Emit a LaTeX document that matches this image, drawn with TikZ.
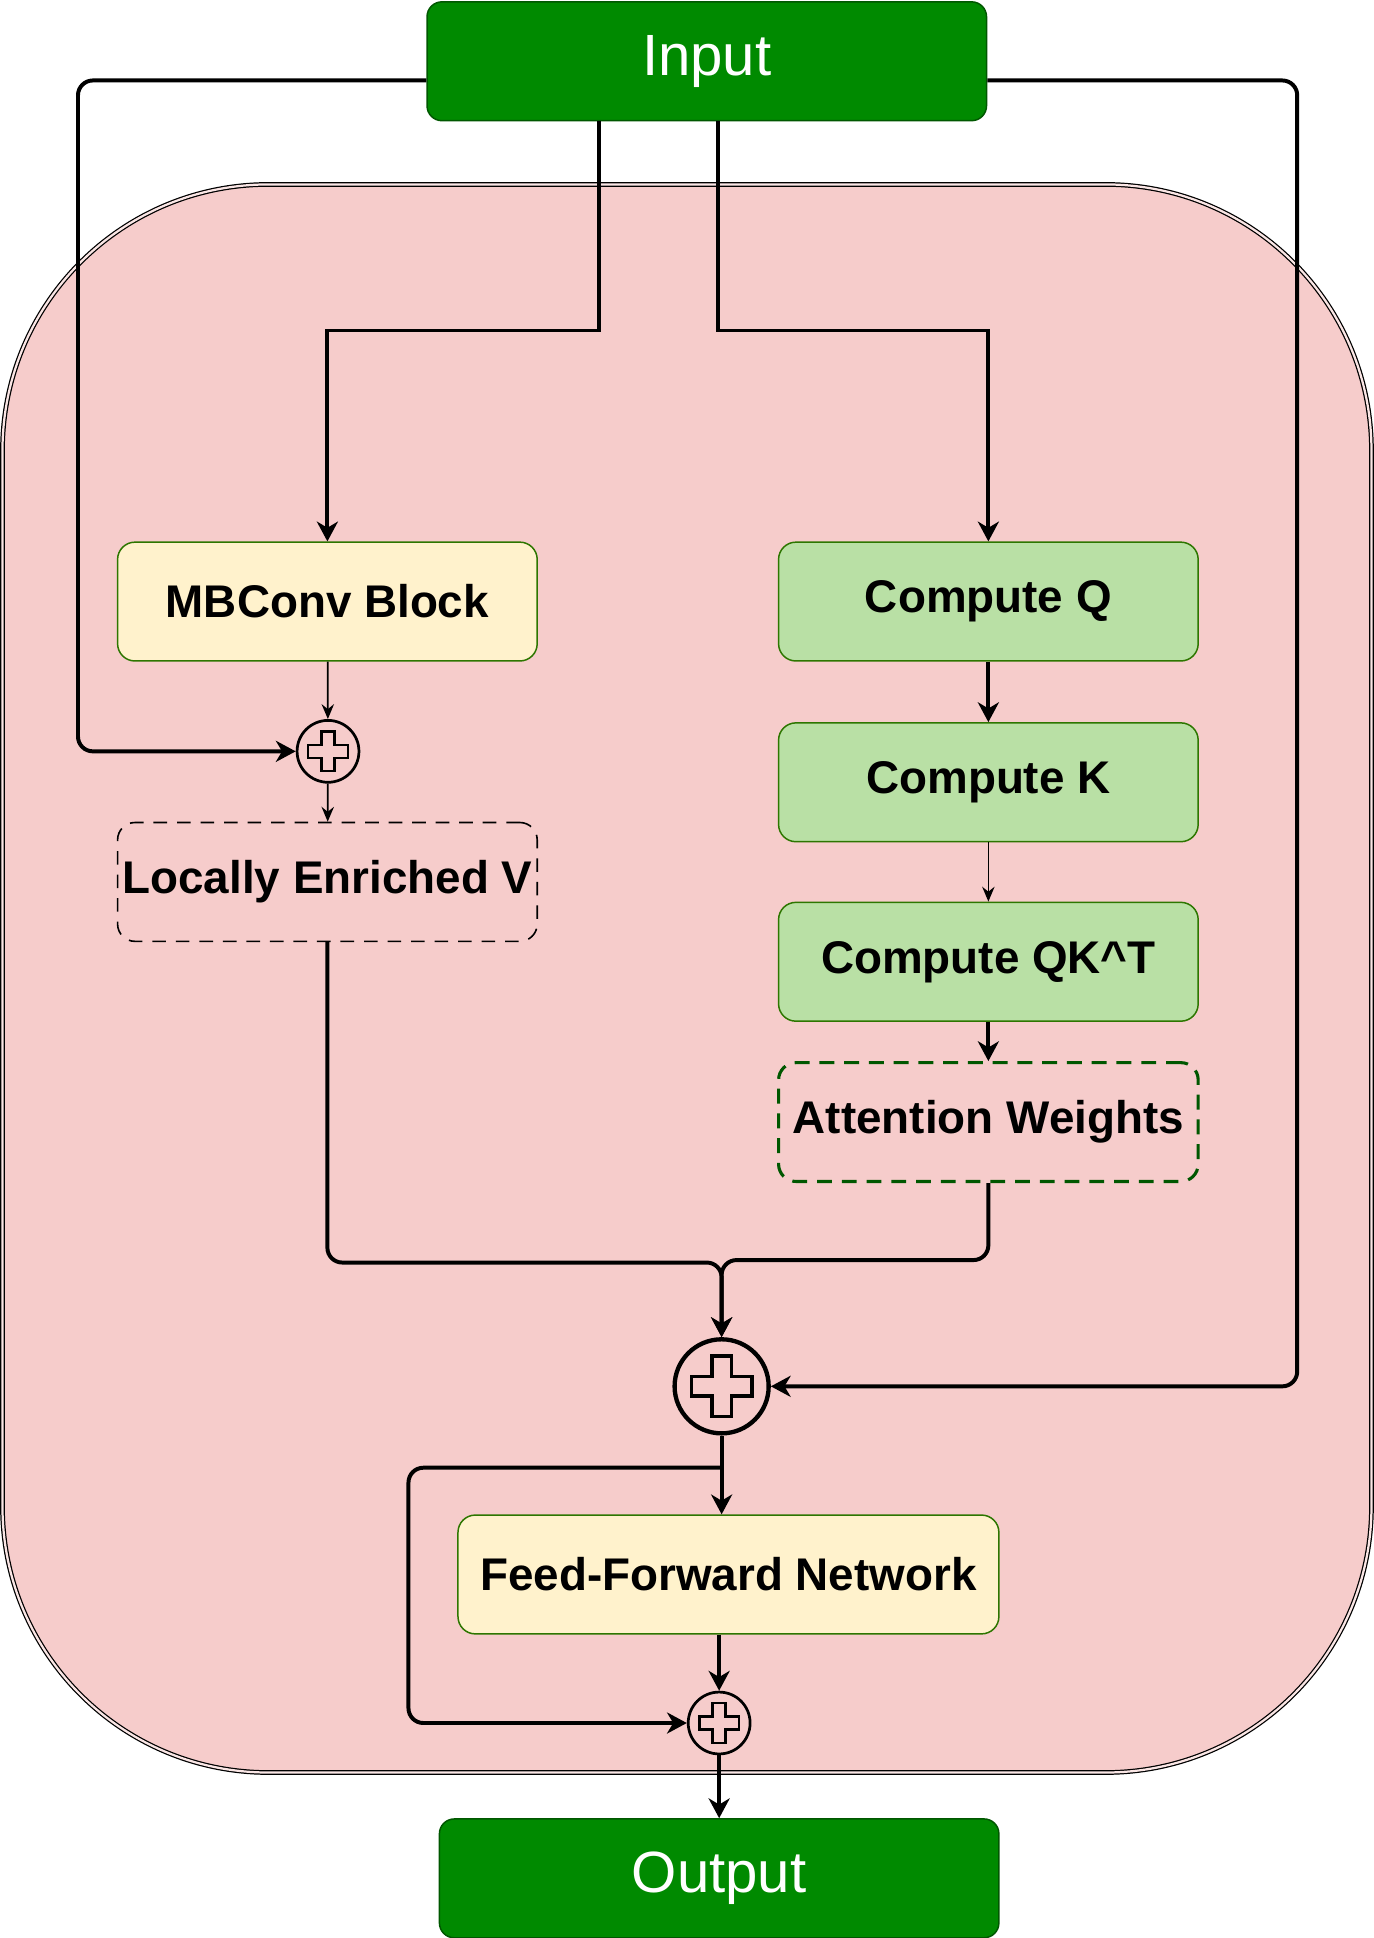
\documentclass[tikz,border=0pt]{standalone}
\usepackage{fontspec}
\setmainfont{Liberation Sans}
\usetikzlibrary{arrows.meta}
\definecolor{iogreen}{HTML}{008A00}
\definecolor{iostroke}{HTML}{005700}
\definecolor{blockfill}{HTML}{FFF2CC}
\definecolor{attnfill}{HTML}{B9E0A5}
\definecolor{boxstroke}{HTML}{2D7600}
\definecolor{encfill}{HTML}{F6CCCB}
\begin{document}
\begin{tikzpicture}[x=1pt, y=-1pt,
    io/.style={draw=iostroke, fill=iogreen, text=white, rounded corners=12pt, line width=1.2pt,
      minimum width=452pt, minimum height=96pt, inner sep=0pt, font=\fontsize{47}{56}\selectfont},
    block/.style={draw=boxstroke, fill=blockfill, rounded corners=14pt, line width=1.2pt,
      minimum width=339pt, minimum height=96pt, inner sep=0pt, font=\fontsize{37}{44}\selectfont\bfseries},
    attn/.style={block, fill=attnfill},
    localv/.style={block, fill=none, draw=black, line width=1.3pt, dash pattern=on 11pt off 8pt},
    weights/.style={block, fill=none, draw=iostroke, line width=2.5pt, dash pattern=on 12pt off 8pt},
    addsign/.style={circle, draw, fill=encfill, line width=2.2pt, minimum size=50pt, inner sep=0pt},
    link/.style={line width=3.2pt, -{Stealth[length=16pt, width=17pt, inset=5pt]}},
    thinlink/.style={line width=1.4pt, -{Stealth[length=12pt, width=10pt, inset=4pt]}}]
  \useasboundingbox (0,0) rectangle (1110,1565.7);
  \draw[line width=1pt, double=encfill!50!white, double distance=1.8pt, fill=encfill,
    rounded corners=215pt] (2,149) rectangle (1108,1432);
  \draw
    (571,49.5) node[io] (input){Input}
    (264.5,486) node[block] (mbconv){MBConv Block}
    (265,607) node[addsign] (add1){}
    (264.5,712.5) node[localv] (lev){Locally Enriched V}
    (798.5,486) node[attn] (cq){Compute Q}
    (798.5,632) node[attn] (ck){Compute K}
    (798.5,777) node[attn] (cqkt){Compute QK\textasciicircum T}
    (798.5,906.5) node[weights] (aw){Attention Weights}
    (583,1120) node[addsign, minimum size=76pt, line width=3.5pt] (addall){}
    (588.5,1272) node[block, minimum width=437pt] (ffn){Feed-Forward Network}
    (581,1392) node[addsign] (addout){}
    (581,1517.5) node[io] (output){Output};
  \foreach \n/\r/\w in {add1/25/2, addall/38/3, addout/25/2}
    \draw[line width=\w pt, shift={(\n.center)}, scale=\r]
      (-.21,-.64) -- (.21,-.64) -- (.21,-.21) -- (.64,-.21) -- (.64,.21) -- (.21,.21)
      -- (.21,.64) -- (-.21,.64) -- (-.21,.21) -- (-.64,.21) -- (-.64,-.21) -- (-.21,-.21) -- cycle;
  \begin{scope}[link]
    \draw ([xshift=-87pt]input.south) |- (360,267) -| (mbconv);
    \draw ([xshift=9pt]input.south) |- (700,267) -| (cq);
    \draw[rounded corners=12pt] ([yshift=-15.5pt]input.west) -| (63,300) |- (add1);
    \draw[rounded corners=12pt] ([yshift=-15.5pt]input.east) -| (1048,600) |- (addall);
    \draw (cq) to (ck);
    \draw (cqkt) to (aw);
    \draw[rounded corners=12pt] (lev) |- (420,1020) -| (addall);
    \draw[rounded corners=12pt] (aw) |- (700,1018) -| (addall);
    \draw (addall) to (addall |- ffn.north);
    \draw[rounded corners=12pt] ([yshift=-26pt]addall.south) -| (330,1300) |- (addout);
    \draw (ffn.south -| addout) to (addout);
    \draw (addout) to (output);
  \end{scope}
  \begin{scope}[thinlink]
    \draw (mbconv) to (add1);
    \draw (add1) to (lev);
    \draw (ck) to (cqkt);
  \end{scope}
\end{tikzpicture}
\end{document}
